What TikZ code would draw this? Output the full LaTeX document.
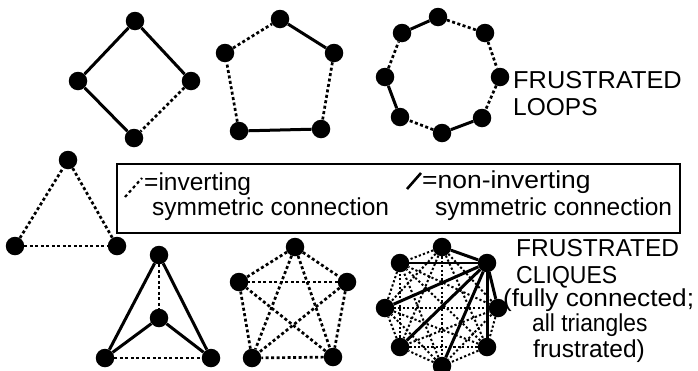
\documentclass[tikz,border=0pt]{standalone}
\usepackage{fontspec}
\setmainfont{Liberation Sans}
\begin{document}
\begin{tikzpicture}[x=1pt,y=-1pt,
  vtx/.style={circle,fill=black,inner sep=0pt,minimum size=18.5pt},
  inv/.style={line width=2.7pt,dash pattern=on 3pt off 2.5pt},
  invthin/.style={line width=2pt,dash pattern=on 2.2pt off 2.2pt},
  ninv/.style={line width=3pt},
  lbl/.style={anchor=base west,inner sep=0pt,font=\fontsize{24.5}{28}\selectfont}]
\useasboundingbox (0,0) rectangle (698,370);

% --- frustrated loop of four
\node[vtx] (s1) at (135,21) {};
\node[vtx] (s2) at (191,81) {};
\node[vtx] (s3) at (134,138) {};
\node[vtx] (s4) at (78,81) {};
\draw[ninv] (s4) -- (s1) -- (s2);
\draw[ninv] (s4) -- (s3);
\draw[inv] (s2) -- (s3);

% --- frustrated loop of five
\node[vtx] (p1) at (280,19) {};
\node[vtx] (p2) at (334,53) {};
\node[vtx] (p3) at (321,129) {};
\node[vtx] (p4) at (239,131) {};
\node[vtx] (p5) at (225,53) {};
\draw[ninv] (p1) -- (p2);
\draw[inv] (p2) -- (p3);
\draw[ninv] (p3) -- (p4);
\draw[inv] (p4) -- (p5);
\draw[inv] (p5) -- (p1);

% --- frustrated loop of eight
\node[vtx] (o1) at (438,17) {};
\node[vtx] (o2) at (485,33) {};
\node[vtx] (o3) at (500,77) {};
\node[vtx] (o4) at (482,118) {};
\node[vtx] (o5) at (442,133) {};
\node[vtx] (o6) at (400,117) {};
\node[vtx] (o7) at (385,77) {};
\node[vtx] (o8) at (402,33) {};
\draw[ninv] (o8) -- (o1);
\draw[inv] (o1) -- (o2);
\draw[inv] (o2) -- (o3);
\draw[inv] (o3) -- (o4);
\draw[ninv] (o4) -- (o5);
\draw[inv] (o5) -- (o6);
\draw[ninv] (o6) -- (o7);
\draw[inv] (o7) -- (o8);

\node[lbl] (loops1) at (513,88) {\scalebox{1.035}[1]{FRUSTRATED}};
\node[lbl] (loops2) at (513,115) {LOOPS};

% --- legend
\draw[line width=1.4pt] (117,164) rectangle (680,233);
\coordinate (ia) at (125,197);
\coordinate (ib) at (142,178);
\draw[line width=2.2pt,dash pattern=on 3pt off 3pt] (ia) -- (ib);
\node[lbl] (leg1) at (144,190) {=inverting};
\node[lbl] (leg2) at (152,215) {symmetric connection};
\coordinate (na) at (407,189);
\coordinate (nb) at (421,173);
\draw[line width=2.6pt] (na) -- (nb);
\node[lbl] (leg3) at (422,188) {\scalebox{1.08}[1]{=non-inverting}};
\node[lbl] (leg4) at (435,215) {symmetric connection};

% --- frustrated triangle
\node[vtx] (t1) at (68,160) {};
\node[vtx] (t2) at (117,246) {};
\node[vtx] (t3) at (15,246) {};
\draw[inv] (t3) -- (t1) -- (t2);
\draw[inv] (t3) -- (t2);

% --- clique of four
\node[vtx] (k1) at (159,255) {};
\node[vtx] (k2) at (159,318) {};
\node[vtx] (k3) at (105,358) {};
\node[vtx] (k4) at (211,358) {};
\draw[inv] (k1) -- (k2);
\draw[ninv] (k3) -- (k1) -- (k4);
\draw[ninv] (k3) -- (k2) -- (k4);
\draw[inv] (k3) -- (k4);

% --- clique of five, all inverting
\node[vtx] (f1) at (295,247) {};
\node[vtx] (f2) at (347,282) {};
\node[vtx] (f3) at (333,357) {};
\node[vtx] (f4) at (252,358) {};
\node[vtx] (f5) at (239,282) {};
\foreach \u/\v in {f1/f2,f1/f3,f1/f4,f1/f5,f2/f3,f2/f4,f2/f5,f3/f4,f3/f5,f4/f5}
  \draw[inv] (\u) -- (\v);

% --- clique of eight: hub q2 non-inverting to all, rest inverting
\node[vtx] (q1) at (442,247) {};
\node[vtx] (q2) at (487,263) {};
\node[vtx] (q3) at (498,308) {};
\node[vtx] (q4) at (487,347) {};
\node[vtx] (q5) at (442,366) {};
\node[vtx] (q6) at (400,347) {};
\node[vtx] (q7) at (385,308) {};
\node[vtx] (q8) at (400,263) {};
\foreach \u/\v in {q1/q3,q1/q4,q1/q5,q1/q6,q1/q7,q1/q8,
                   q3/q4,q3/q5,q3/q6,q3/q7,q3/q8,
                   q4/q5,q4/q6,q4/q7,q4/q8,
                   q5/q6,q5/q7,q5/q8,
                   q6/q7,q6/q8,q7/q8}
  \draw[invthin] (\u) -- (\v);
\draw[line width=1.2pt] (q2) -- (q8);
\foreach \v in {q1,q3,q4,q5,q6,q7}
  \draw[ninv] (q2) -- (\v);

\node[lbl] (cl1) at (516,256) {FRUSTRATED};
\node[lbl] (cl2) at (516,283) {\scalebox{0.94}[1]{CLIQUES}};
\node[lbl] (cl3) at (503,306) {\scalebox{1.07}[1]{(fully connected;}};
\node[lbl] (cl4) at (532,331) {\scalebox{0.93}[1]{all triangles}};
\node[lbl] (cl5) at (533,357) {frustrated)};
\end{tikzpicture}
\end{document}
